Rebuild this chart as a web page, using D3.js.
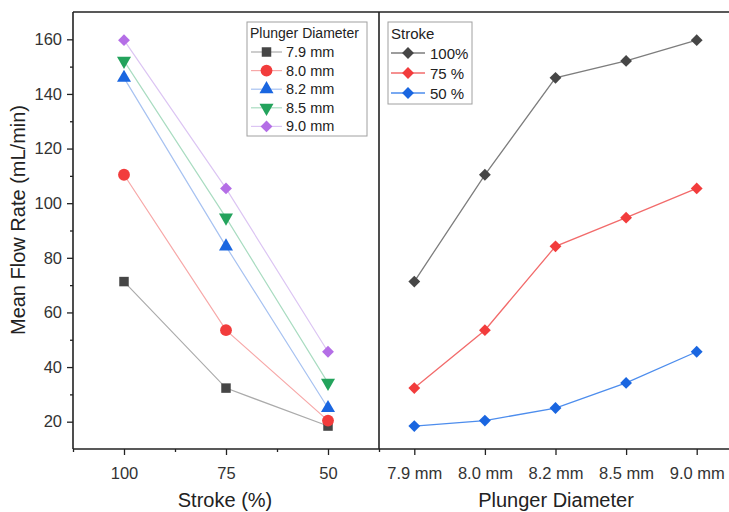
<!DOCTYPE html>
<html>
<head>
<meta charset="utf-8">
<title>Mean Flow Rate</title>
<style>
	body { margin: 0; background: #fff; }
	svg { display: block; font-family: "Liberation Sans", Arial, sans-serif; }
</style>
</head>
<body>
<svg id="chart" width="729" height="512"></svg>
<script src="https://d3js.org/d3.v7.min.js"></script>
<script>
"use strict";

// data
var strokes = [100, 75, 50];
var strokeNames = ["100%", "75 %", "50 %"];
var diameters = ["7.9 mm", "8.0 mm", "8.2 mm", "8.5 mm", "9.0 mm"];
// flow per diameter, at stroke 100 / 75 / 50
var flow79 = [71.3, 32.3, 18.4];
var flow80 = [110.4, 53.5, 20.4];
var flow82 = [145.9, 84.2, 25.0];
var flow85 = [152.1, 94.7, 34.2];
var flow90 = [159.7, 105.4, 45.6];
var yTicks = [20, 40, 60, 80, 100, 120, 140, 160];

var flows = [flow79, flow80, flow82, flow85, flow90];

var diaStyle = [
	{ fill: "#464646", line: "#ababab", sym: d3.symbolSquare, size: 90, rot: 0 },
	{ fill: "#f23c3c", line: "#f7a8a8", sym: d3.symbolCircle, size: 110, rot: 0 },
	{ fill: "#1a66e0", line: "#a7c2f1", sym: d3.symbolTriangle, size: 85, rot: 0 },
	{ fill: "#23a35c", line: "#a9dcc1", sym: d3.symbolTriangle, size: 85, rot: 180 },
	{ fill: "#b46ee6", line: "#dcc5f3", sym: d3.symbolSquare, size: 70, rot: 45 }
];
var strokeStyle = [
	{ fill: "#464646", line: "#7d7d7d" },
	{ fill: "#f23c3c", line: "#f26b6b" },
	{ fill: "#1a66e0", line: "#4d8ded" }
];

var svg = d3.select("#chart");
var plotTop = 12, plotBottom = 449, plotLeft = 73, plotMid = 379, plotRight = 732;

var y = d3.scaleLinear().domain([10, 170]).range([plotBottom, plotTop]);
var xL = d3.scaleLinear().domain([112.5, 37.5]).range([plotLeft, plotMid]);
var xR = d3.scalePoint().domain(diameters).range([plotMid, plotRight]).padding(0.5);

var line = d3.line();

// ---- left panel: flow vs stroke, one line per diameter
flows.forEach(function(vals, i) {
	var st = diaStyle[i];
	var pts = vals.map(function(v, j) { return [xL(strokes[j]), y(v)]; });
	svg.append("path").attr("d", line(pts))
		.attr("fill", "none").attr("stroke", st.line).attr("stroke-width", 1.2);
});
flows.forEach(function(vals, i) {
	var st = diaStyle[i];
	svg.append("g").selectAll("path").data(vals).enter().append("path")
		.attr("d", d3.symbol().type(st.sym).size(st.size))
		.attr("transform", function(d, j) {
			return "translate(" + xL(strokes[j]) + "," + y(d) + ") rotate(" + st.rot + ")";
		})
		.attr("fill", st.fill);
});

// ---- right panel: flow vs diameter, one line per stroke
strokes.forEach(function(s, k) {
	var st = strokeStyle[k];
	var vals = flows.map(function(f) { return f[k]; });
	var pts = vals.map(function(v, j) { return [xR(diameters[j]), y(v)]; });
	svg.append("path").attr("d", line(pts))
		.attr("fill", "none").attr("stroke", st.line).attr("stroke-width", 1.3);
	svg.append("g").selectAll("path").data(vals).enter().append("path")
		.attr("d", d3.symbol().type(d3.symbolSquare).size(70))
		.attr("transform", function(d, j) {
			return "translate(" + xR(diameters[j]) + "," + y(d) + ") rotate(45)";
		})
		.attr("fill", st.fill);
});

// ---- axes
svg.append("g").attr("transform", "translate(" + plotLeft + ",0)")
	.call(d3.axisLeft(y).tickValues(yTicks).tickSize(6).tickSizeOuter(0).tickPadding(5));
svg.append("g").attr("transform", "translate(" + plotLeft + ",0)")
	.call(d3.axisLeft(y).tickValues(d3.range(30, 170, 20)).tickSize(3).tickFormat("").tickSizeOuter(0));

svg.append("g").attr("transform", "translate(0," + plotBottom + ")")
	.call(d3.axisBottom(xL).tickValues(strokes).tickSize(6).tickSizeOuter(0).tickPadding(12));
svg.append("g").attr("transform", "translate(0," + plotBottom + ")")
	.call(d3.axisBottom(xL).tickValues([112.5, 87.5, 62.5, 37.5]).tickSize(3).tickFormat("").tickSizeOuter(0));
svg.append("g").attr("transform", "translate(0," + plotBottom + ")")
	.call(d3.axisBottom(xR).tickSize(6).tickSizeOuter(0).tickPadding(12));

svg.selectAll(".domain").remove();
svg.selectAll(".tick line").attr("stroke", "#222").attr("stroke-width", 1.3);
svg.selectAll(".tick text").attr("font-size", 16.5).attr("fill", "#333")
	.style("font-family", "'Liberation Sans', Arial, sans-serif");

// frame
var frame = [
	[[plotLeft, plotTop], [729, plotTop]],
	[[plotLeft, plotTop], [plotLeft, plotBottom]],
	[[plotLeft, plotBottom], [729, plotBottom]],
	[[plotMid, plotTop], [plotMid, plotBottom]]
];
frame.forEach(function(f) {
	svg.append("path").attr("d", line(f)).attr("stroke", "#222").attr("stroke-width", 1.6).attr("fill", "none");
});

// titles
svg.append("text").attr("transform", "translate(25,220) rotate(-90)")
	.attr("text-anchor", "middle").attr("font-size", 20).attr("fill", "#222")
	.text("Mean Flow Rate (mL/min)");
svg.append("text").attr("x", (plotLeft + plotMid) / 2 - 1).attr("y", 507)
	.attr("text-anchor", "middle").attr("font-size", 20).attr("fill", "#222")
	.text("Stroke (%)");
svg.append("text").attr("x", 556).attr("y", 507)
	.attr("text-anchor", "middle").attr("font-size", 20).attr("fill", "#222")
	.text("Plunger Diameter");

// ---- legend, left panel
var lg1 = svg.append("g").attr("transform", "translate(247,22)");
lg1.append("rect").attr("width", 120).attr("height", 114)
	.attr("fill", "#fff").attr("stroke", "#a0a0a0").attr("stroke-width", 1);
lg1.append("text").attr("x", 3).attr("y", 16).attr("font-size", 14).attr("fill", "#222").text("Plunger Diameter");
diameters.forEach(function(d, i) {
	var st = diaStyle[i];
	var cy = 30 + i * 18.6;
	lg1.append("path").attr("d", line([[4, cy], [35, cy]])).attr("stroke", st.line).attr("stroke-width", 1.2);
	lg1.append("path").attr("d", d3.symbol().type(st.sym).size(st.size))
		.attr("transform", "translate(19.5," + cy + ") rotate(" + st.rot + ")").attr("fill", st.fill);
	lg1.append("text").attr("x", 39).attr("y", cy + 5).attr("font-size", 14.5).attr("fill", "#222").text(d);
});

// ---- legend, right panel
var lg2 = svg.append("g").attr("transform", "translate(388,22)");
lg2.append("rect").attr("width", 84).attr("height", 82)
	.attr("fill", "#fff").attr("stroke", "#a0a0a0").attr("stroke-width", 1);
lg2.append("text").attr("x", 3).attr("y", 17).attr("font-size", 15).attr("fill", "#222").text("Stroke");
strokeNames.forEach(function(n, k) {
	var st = strokeStyle[k];
	var cy = 31 + k * 20;
	lg2.append("path").attr("d", line([[3, cy], [37, cy]])).attr("stroke", st.line).attr("stroke-width", 1.3);
	lg2.append("path").attr("d", d3.symbol().type(d3.symbolSquare).size(70))
		.attr("transform", "translate(20," + cy + ") rotate(45)").attr("fill", st.fill);
	lg2.append("text").attr("x", 42).attr("y", cy + 5.5).attr("font-size", 15).attr("fill", "#222").text(n);
});
</script>
</body>
</html>
